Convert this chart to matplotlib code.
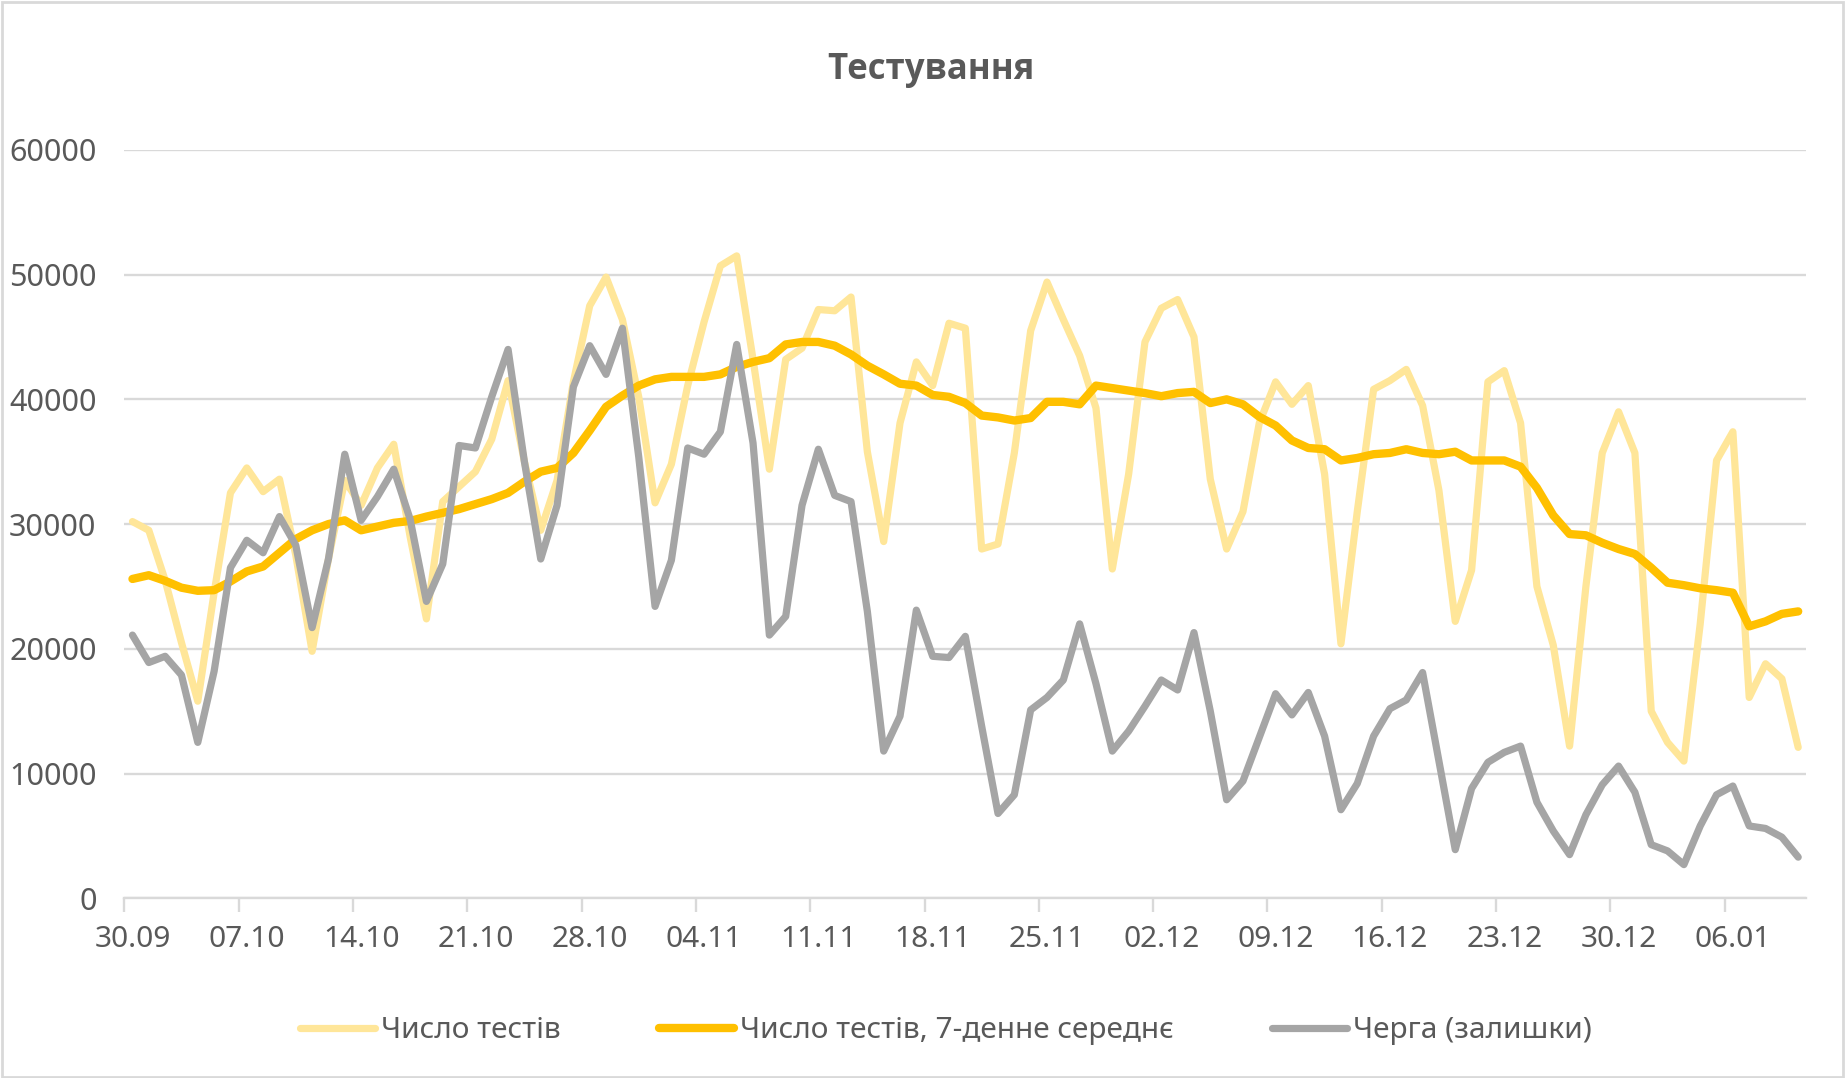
import matplotlib
matplotlib.use('Agg')
import matplotlib.pyplot as plt
import numpy as np
from matplotlib.patches import Rectangle

plt.rcParams['font.family'] = ['Noto Sans', 'DejaVu Sans']

# ---- data (daily, 30.09 .. 10.01) ----
tests = [30200, 29500, 25500, 20500, 15800, 24500, 32500, 34500, 32600, 33600,
         27500, 19800, 27200, 33500, 31500, 34500, 36400, 29000, 22400, 31800,
         33000, 34200, 36800, 41500, 35000, 29500, 33500, 41400, 47500, 49800,
         46400, 40200, 31700, 34800, 41100, 46200, 50700, 51500, 43200, 34400,
         43200, 44100, 47200, 47100, 48200, 35800, 28600, 38100, 43000, 41100,
         46100, 45700, 28000, 28400, 35700, 45500, 49400, 46400, 43500, 39300,
         26400, 34000, 44600, 47300, 48000, 45000, 33600, 28000, 31000, 38100,
         41400, 39600, 41100, 34000, 20400, 31000, 40800, 41500, 42400, 39500,
         32700, 22200, 26300, 41400, 42300, 38100, 25000, 20300, 12200, 25000,
         35700, 39000, 35700, 15000, 12500, 11000, 22000, 35100, 37400, 16100,
         18800, 17600, 12100]

tests_avg7 = [25600, 25900, 25450, 24900, 24650, 24700, 25400, 26200, 26600, 27700,
              28800, 29500, 30000, 30300, 29500, 29800, 30100, 30250, 30600, 30900,
              31200, 31600, 32000, 32500, 33400, 34200, 34500, 35700, 37500, 39400,
              40300, 41100, 41600, 41800, 41800, 41800, 42000, 42600, 43000, 43300,
              44400, 44600, 44600, 44300, 43600, 42700, 42000, 41250, 41100, 40350,
              40200, 39700, 38700, 38550, 38300, 38500, 39800, 39800, 39600, 41100,
              40900, 40700, 40500, 40250, 40500, 40600, 39700, 40000, 39600, 38600,
              37900, 36700, 36100, 36000, 35100, 35300, 35600, 35700, 36000, 35700,
              35600, 35800, 35100, 35100, 35100, 34600, 32900, 30700, 29200, 29100,
              28500, 28000, 27600, 26500, 25300, 25100, 24850, 24700, 24500, 21800,
              22200, 22800, 23000]

queue = [21100, 18900, 19400, 17900, 12500, 18200, 26500, 28700, 27700, 30600,
         28300, 21700, 27200, 35600, 30300, 32200, 34400, 30400, 23800, 26800,
         36300, 36100, 40200, 44000, 35000, 27200, 31500, 41000, 44300, 42000,
         45700, 35400, 23400, 27100, 36100, 35600, 37400, 44400, 36500, 21100,
         22600, 31500, 36000, 32300, 31800, 23000, 11800, 14600, 23100, 19400,
         19300, 21000, 13800, 6800, 8300, 15100, 16100, 17500, 22000, 17200,
         11800, 13400, 15400, 17500, 16700, 21300, 15000, 7900, 9400, 12900,
         16400, 14700, 16500, 13000, 7100, 9200, 13000, 15200, 15900, 18100,
         11000, 3900, 8800, 10900, 11700, 12200, 7700, 5400, 3500, 6700,
         9100, 10600, 8500, 4300, 3800, 2700, 5800, 8300, 9000, 5800,
         5600, 4900, 3300]

tick_labels = ["30.09", "07.10", "14.10", "21.10", "28.10", "04.11", "11.11",
               "18.11", "25.11", "02.12", "09.12", "16.12", "23.12", "30.12", "06.01"]

series_names = ["Число тестів", "Число тестів, 7-денне середнє", "Черга (залишки)"]

TXT = '#595959'
GRID = '#D9D9D9'

fig = plt.figure(figsize=(18.47, 10.78), dpi=100)
ax = fig.add_axes([0.0673, 0.1667, 0.978 - 0.0673, 0.861 - 0.1667])

x = np.arange(len(tests))
l1, = ax.plot(x, tests, color='#FFE699', lw=5.2, solid_joinstyle='round',
              solid_capstyle='round', zorder=3)
l2, = ax.plot(x, tests_avg7, color='#FFC000', lw=6, solid_joinstyle='round',
              solid_capstyle='round', zorder=4)
l3, = ax.plot(x, queue, color='#A5A5A5', lw=5.2, solid_joinstyle='round',
              solid_capstyle='round', zorder=5)

ax.set_xlim(-0.5, len(tests) - 0.5)
ax.set_ylim(0, 60000)
ax.set_yticks(np.arange(0, 60001, 10000))
ax.yaxis.grid(True, color=GRID, lw=1.7)
ax.set_axisbelow(True)
ax.tick_params(axis='y', length=0, pad=20, labelsize=22, labelcolor=TXT)

for s in ['top', 'right', 'left']:
    ax.spines[s].set_visible(False)
ax.spines['bottom'].set_color(GRID)
ax.spines['bottom'].set_linewidth(1.7)

tick_pos = np.arange(len(tick_labels)) * 7
ax.set_xticks(tick_pos - 0.5)
ax.set_xticklabels([])
ax.tick_params(axis='x', which='major', length=10, width=1.7, color=GRID)
ax.set_xticks(tick_pos, minor=True)
ax.set_xticklabels(tick_labels, minor=True)
ax.tick_params(axis='x', which='minor', length=0, pad=19, labelsize=21.5, labelcolor=TXT)

fig.text(0.504, 0.935, "Тестування", ha='center', va='center', fontsize=25,
         fontweight='bold', color=TXT, family=['Open Sans', 'DejaVu Sans'])

leg = fig.legend([l1, l2, l3], series_names, loc='center', bbox_to_anchor=(0.512, 0.044),
                 ncol=3, frameon=False, fontsize=21.5, handlelength=2.5, handletextpad=0.2,
                 columnspacing=3.3)
for t in leg.get_texts():
    t.set_color(TXT)

fig.add_artist(Rectangle((0.001, 0.001), 0.997, 0.997, transform=fig.transFigure,
                         fill=False, edgecolor=GRID, lw=2))

fig.savefig('out.png', dpi=100)
